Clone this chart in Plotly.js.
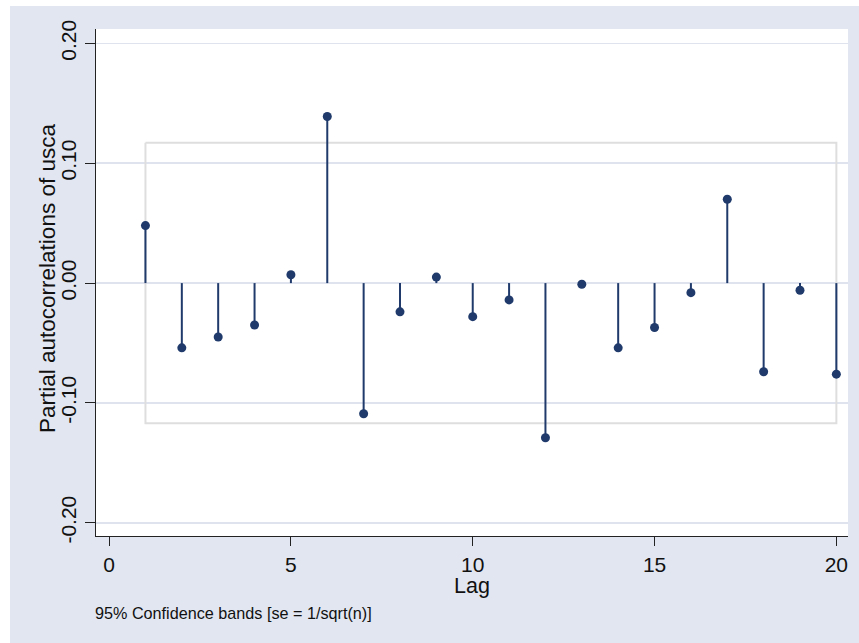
<!DOCTYPE html>
<html>
<head>
<meta charset="utf-8">
<script src="https://cdn.plot.ly/plotly-3.0.1.min.js"></script>
<style>
html,body{margin:0;padding:0;background:#ffffff;}
#chart{position:absolute;left:10px;top:6px;width:849px;height:637px;}
</style>
</head>
<body>
<div id="chart"></div>
<script>
// Data
const lags = [1,2,3,4,5,6,7,8,9,10,11,12,13,14,15,16,17,18,19,20];
const pacf = [0.048,-0.054,-0.045,-0.035,0.007,0.139,-0.109,-0.024,0.005,-0.028,
              -0.014,-0.129,-0.001,-0.054,-0.037,-0.008,0.070,-0.074,-0.006,-0.076];
const ciBand = 0.117;
const yTicks = [-0.2,-0.1,0,0.1,0.2];
const xTicks = [0,5,10,15,20];

const navy = '#1f3a6b';

// stems
const sx = [], sy = [];
lags.forEach((l,i)=>{ sx.push(l,l,null); sy.push(0,pacf[i],null); });

const lagMin = lags[0], lagMax = lags[lags.length-1];

const traces = [
  {x:[lagMin,lagMax,lagMax,lagMin,lagMin], y:[ciBand,ciBand,-ciBand,-ciBand,ciBand],
   mode:'lines', line:{color:'#dedede', width:2}, hoverinfo:'skip', showlegend:false},
  {x:sx, y:sy, mode:'lines', line:{color:navy, width:2}, hoverinfo:'skip', showlegend:false},
  {x:lags, y:pacf, mode:'markers', marker:{color:navy, size:9}, showlegend:false}
];

const font = 'Liberation Sans, Arial, sans-serif';
const layout = {
  width:849, height:637,
  paper_bgcolor:'#e1e6f0', plot_bgcolor:'#ffffff',
  margin:{l:86, r:11, t:23, b:107, pad:0},
  font:{family:font, color:'#111111'},
  xaxis:{range:[-0.36,20.32], tickvals:xTicks, ticktext:xTicks.map(String),
         ticks:'outside', ticklen:9, tickwidth:1, tickcolor:'#222',
         showline:true, linecolor:'#222', linewidth:1.3,
         showgrid:false, zeroline:false,
         tickfont:{size:21, family:font}},
  yaxis:{range:[-0.211,0.212], tickvals:yTicks, ticktext:yTicks.map(v=>v.toFixed(2)),
         tickangle:-90,
         ticks:'outside', ticklen:10, tickwidth:1, tickcolor:'#222',
         showline:true, linecolor:'#222', linewidth:1.3,
         showgrid:true, gridcolor:'#dfe3ee', gridwidth:1.5, zeroline:false,
         tickfont:{size:21, family:font}},
  annotations:[
    {text:'Lag', xref:'paper', yref:'paper',
     x:0.5, y:-0.099, xanchor:'center', yanchor:'middle', showarrow:false,
     font:{size:21.5, family:font, color:'#111'}},
    {text:'Partial autocorrelations of usca', xref:'paper', yref:'paper',
     x:-0.0638, y:0.507, xanchor:'center', yanchor:'middle', textangle:-90, showarrow:false,
     font:{size:22.5, family:font, color:'#111'}},
    {text:'95% Confidence bands [se = 1/sqrt(n)]', xref:'paper', yref:'paper',
     x:-0.004, y:-0.152, xanchor:'left', yanchor:'middle', showarrow:false,
     font:{size:16.2, family:font, color:'#111'}}
  ]
};

Plotly.newPlot('chart', traces, layout, {displayModeBar:false, staticPlot:true});
</script>
</body>
</html>
